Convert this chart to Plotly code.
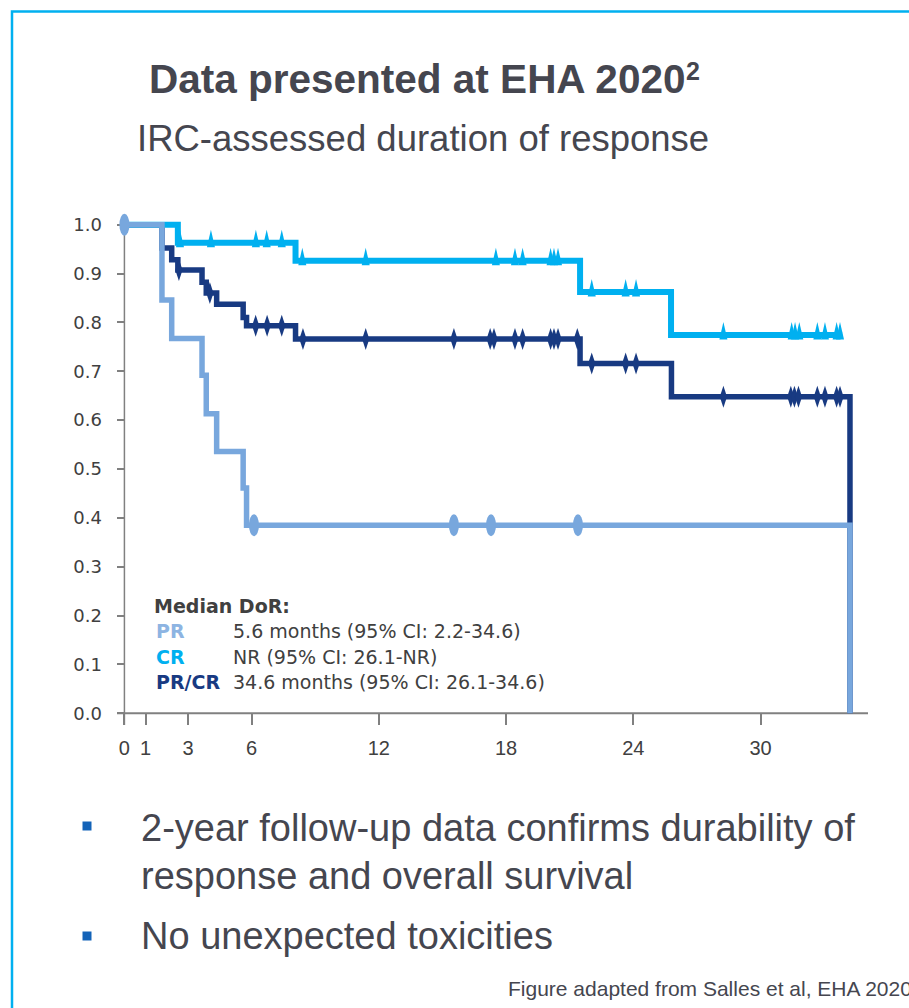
import plotly.graph_objects as go

# ---------------- data ----------------
pr_times = [0, 1.77, 2.23, 3.66, 3.86, 4.35, 5.60, 5.76, 34.22]
pr_surv = [1.0, 0.846, 0.767, 0.692, 0.613, 0.536, 0.461, 0.385, 0.0]
pr_censor = [0.0, 6.11, 15.54, 17.29, 21.39]

cr_times = [0, 2.52, 8.07, 21.49, 25.78, 33.85]
cr_surv = [1.0, 0.963, 0.926, 0.862, 0.774, 0.774]
cr_censor = [2.62, 4.08, 6.20, 6.71, 7.42, 8.39, 11.38, 17.52, 18.42, 18.78,
             20.10, 20.26, 20.45, 22.04, 23.64, 24.13, 28.25, 31.47, 31.63,
             31.83, 32.68, 33.04, 33.59, 33.75]

all_times = [0, 1.77, 2.23, 2.52, 3.66, 3.86, 4.35, 5.60, 5.76, 8.07, 21.49, 25.80, 34.22]
all_surv = [1.0, 0.952, 0.928, 0.907, 0.882, 0.860, 0.837, 0.810, 0.793, 0.766, 0.716, 0.648, 0.0]
all_censor = [2.57, 4.03, 6.19, 6.73, 7.42, 8.42, 11.38, 15.54, 17.25, 17.43,
              18.42, 18.78, 20.10, 20.26, 20.45, 21.36, 22.04, 23.64, 24.13,
              28.25, 31.43, 31.60, 31.79, 32.68, 33.04, 33.59, 33.75]

x_tickvals = [0, 1, 3, 6, 12, 18, 24, 30]
y_tickvals = [0.0, 0.1, 0.2, 0.3, 0.4, 0.5, 0.6, 0.7, 0.8, 0.9, 1.0]

legend_rows = ["PR", "CR", "PR/CR"]
legend_vals = ["5.6 months (95% CI: 2.2-34.6)",
               "NR (95% CI: 26.1-NR)",
               "34.6 months (95% CI: 26.1-34.6)"]

title = "Data presented at EHA 2020"
title_sup = "2"
subtitle = "IRC-assessed duration of response"
bullets = [["2-year follow-up data confirms durability of", "response and overall survival"],
           ["No unexpected toxicities"]]
footer = "Figure adapted from Salles et al, EHA 2020"

# ---------------- style ----------------
C_PR = "#78A7DD"
C_PR_TXT = "#8DB4E2"
C_CR = "#00B0F0"
C_ALL = "#183A82"
C_TXT = "#45464F"
C_AX = "#808080"
FONT = "Liberation Sans, Arial, sans-serif"

W, H = 909, 1008
L, R, T, B = 117, 41, 210, 283
PW, PH = W - L - R, H - T - B
X_RANGE = [-0.35, 35.07]
Y_RANGE = [-0.024, 1.03]


def px_x(px):
    return (px - L) / PW


def px_y(py):
    return (H - B - py) / PH


def level_at(times, surv, t):
    v = surv[0]
    for ti, si in zip(times, surv):
        if ti <= t:
            v = si
    return v


fig = go.Figure()
lw = 5.5
fig.add_trace(go.Scatter(x=all_times, y=all_surv, mode="lines", line=dict(color=C_ALL, width=lw, shape="hv"),
                         hoverinfo="skip", showlegend=False))
fig.add_trace(go.Scatter(x=cr_times, y=cr_surv, mode="lines", line=dict(color=C_CR, width=lw + 0.5, shape="hv"),
                         hoverinfo="skip", showlegend=False))
fig.add_trace(go.Scatter(x=pr_times, y=pr_surv, mode="lines", line=dict(color=C_PR, width=lw, shape="hv"),
                         hoverinfo="skip", showlegend=False))

shapes = []
# axis lines
shapes.append(dict(type="line", xref="paper", yref="y", x0=0, x1=1, y0=0, y1=0,
                   line=dict(color=C_AX, width=2.2), layer="below"))
shapes.append(dict(type="line", xref="x", yref="y", x0=0, x1=0, y0=Y_RANGE[0], y1=1.0,
                   line=dict(color=C_AX, width=1.5), layer="below"))

# censor marks
for t in all_censor:
    s = level_at(all_times, all_surv, t)
    shapes.append(dict(type="path", xref="x", yref="y", xsizemode="pixel", ysizemode="pixel",
                       xanchor=t, yanchor=s, path="M0,11 L3.6,0 L0,-11 L-3.6,0 Z",
                       fillcolor=C_ALL, line=dict(width=0), layer="above"))
for t in cr_censor:
    s = level_at(cr_times, cr_surv, t)
    shapes.append(dict(type="path", xref="x", yref="y", xsizemode="pixel", ysizemode="pixel",
                       xanchor=t, yanchor=s, path="M-4,-4.5 L4,-4.5 L0,13 Z",
                       fillcolor=C_CR, line=dict(width=0), layer="above"))
for t in pr_censor:
    s = level_at(pr_times, pr_surv, t)
    shapes.append(dict(type="circle", xref="x", yref="y", xsizemode="pixel", ysizemode="pixel",
                       xanchor=t, yanchor=s, x0=-5, x1=5, y0=-11, y1=11,
                       fillcolor=C_PR, line=dict(width=0), layer="above"))

# slide frame
shapes.append(dict(type="rect", xref="paper", yref="paper", x0=px_x(12), x1=px_x(1100),
                   y0=px_y(1200), y1=px_y(11.5), line=dict(color="#00B0F0", width=2.5),
                   fillcolor="rgba(0,0,0,0)", layer="below"))
# bullet squares
for by in [826, 936]:
    shapes.append(dict(type="rect", xref="paper", yref="paper", x0=px_x(82.5), x1=px_x(91.5),
                       y0=px_y(by + 4.5), y1=px_y(by - 4.5), fillcolor="#1363B8",
                       line=dict(width=0), layer="above"))

ann = []
ann.append(dict(text="<b>" + title + "</b>", x=px_x(147), y=px_y(79), xanchor="left", yanchor="middle",
                font=dict(family=FONT, size=40.5, color=C_TXT)))
ann.append(dict(text="<b>" + title_sup + "</b>", x=px_x(684), y=px_y(71), xanchor="left", yanchor="middle",
                font=dict(family=FONT, size=25, color=C_TXT)))
ann.append(dict(text=subtitle, x=px_x(135), y=px_y(138), xanchor="left", yanchor="middle",
                font=dict(family=FONT, size=36.5, color=C_TXT)))

ann.append(dict(text="<b>Median DoR:</b>", x=px_x(152), y=px_y(606), xanchor="left", yanchor="middle",
                font=dict(family="DejaVu Sans", size=19, color="#404040")))
row_cols = [C_PR_TXT, C_CR, C_ALL]
for i, (lab, val) in enumerate(zip(legend_rows, legend_vals)):
    yy = 631 + i * 25.5
    ann.append(dict(text="<b>" + lab + "</b>", x=px_x(154), y=px_y(yy), xanchor="left", yanchor="middle",
                    font=dict(family="DejaVu Sans", size=19, color=row_cols[i])))
    ann.append(dict(text=val, x=px_x(231), y=px_y(yy), xanchor="left", yanchor="middle",
                    font=dict(family="DejaVu Sans", size=19, color="#404040")))

bullet_y = [[828, 876], [936]]
for lines, ys in zip(bullets, bullet_y):
    for line, yy in zip(lines, ys):
        ann.append(dict(text=line, x=px_x(139), y=px_y(yy), xanchor="left", yanchor="middle",
                        font=dict(family=FONT, size=38, color=C_TXT)))

ann.append(dict(text=footer, x=px_x(506), y=px_y(988), xanchor="left", yanchor="middle",
                font=dict(family=FONT, size=21, color=C_TXT)))

for a in ann:
    a.update(xref="paper", yref="paper", showarrow=False)

fig.update_layout(
    width=W, height=H,
    margin=dict(l=L, r=R, t=T, b=B, pad=0),
    paper_bgcolor="white", plot_bgcolor="white",
    shapes=shapes, annotations=ann,
    xaxis=dict(range=X_RANGE, showgrid=False, zeroline=False, showline=False,
               tickmode="array", tickvals=x_tickvals, ticktext=[str(v) for v in x_tickvals],
               ticks="inside", ticklen=11.7, tickwidth=1.5, tickcolor=C_AX,
               ticklabelstandoff=9,
               tickfont=dict(family=FONT, size=20, color="#404040")),
    yaxis=dict(range=Y_RANGE, showgrid=False, zeroline=False, showline=False,
               tickmode="array", tickvals=y_tickvals, ticktext=["%.1f" % v for v in y_tickvals],
               ticks="inside", ticklen=7.4, tickwidth=1.5, tickcolor=C_AX,
               ticklabelstandoff=14,
               tickfont=dict(family="DejaVu Sans", size=18, color="#404040")),
)

fig.write_html("out.html", config={"displayModeBar": False},
               post_script="document.body.style.margin='0px';")
